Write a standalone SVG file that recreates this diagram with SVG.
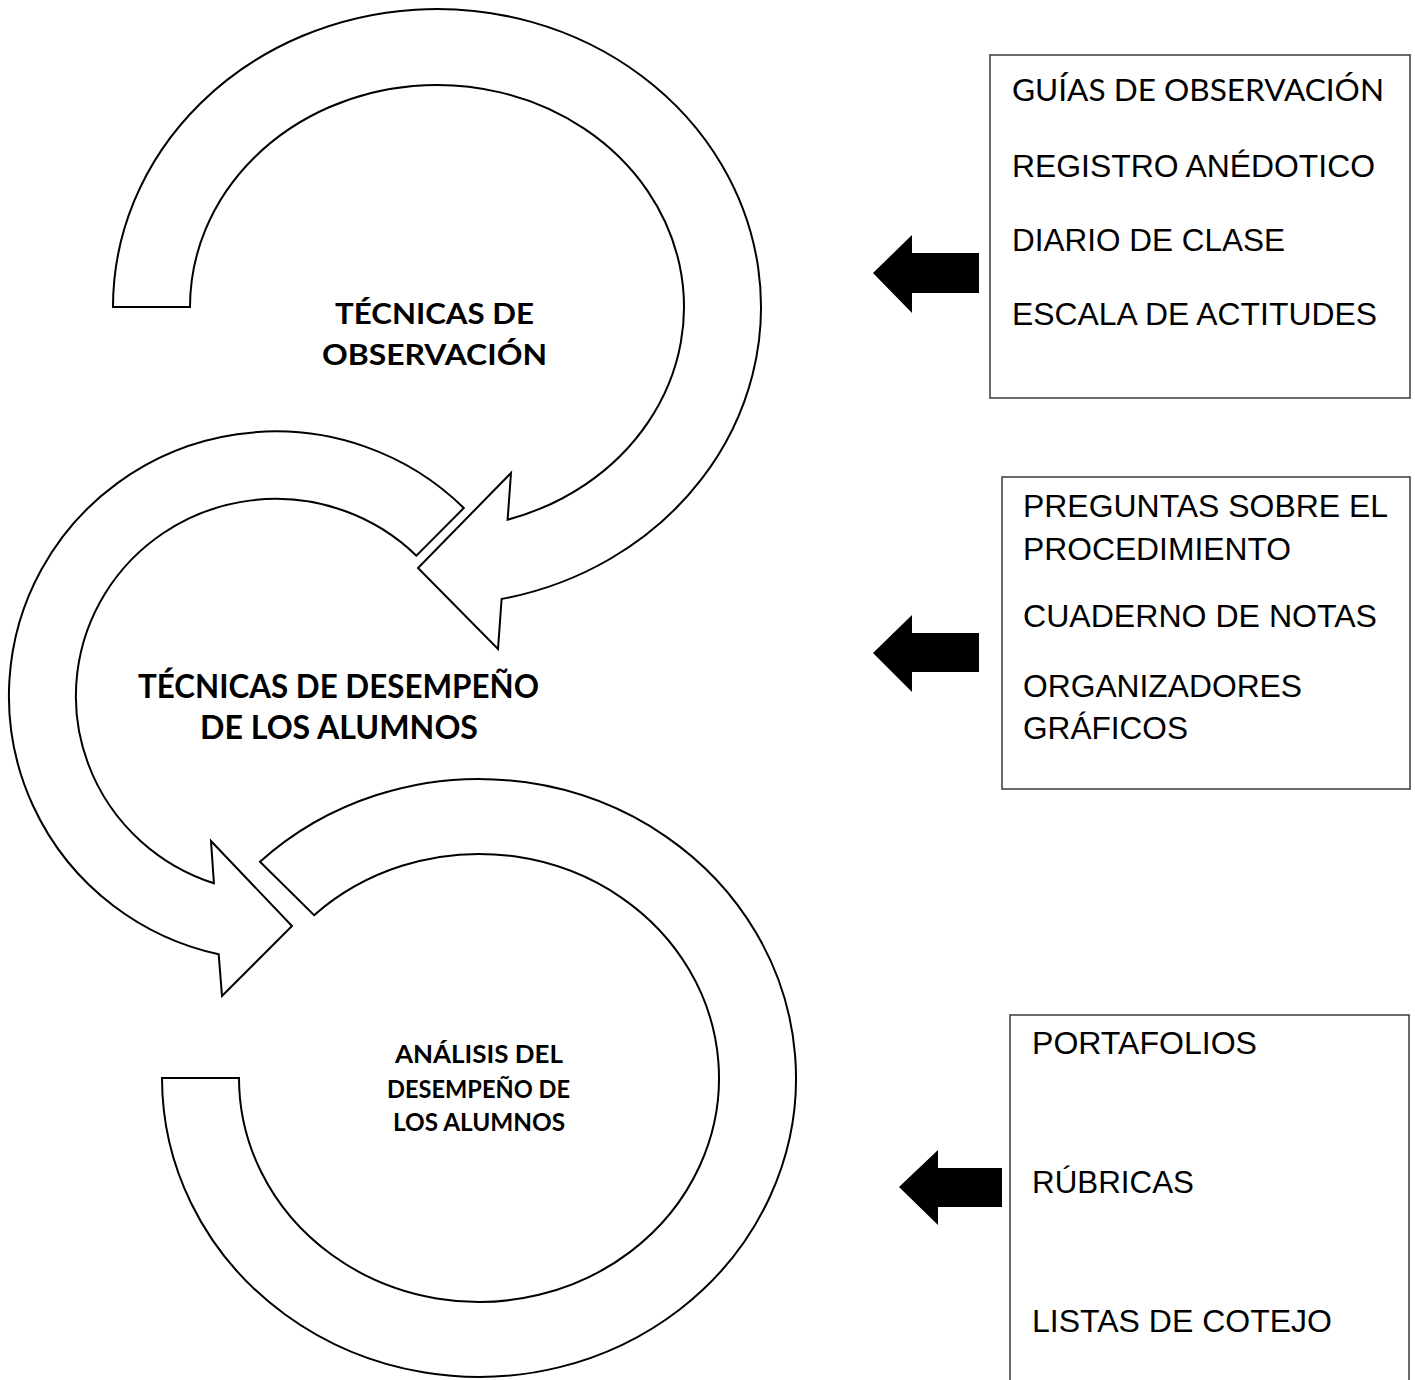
<svg xmlns="http://www.w3.org/2000/svg" width="1415" height="1380" viewBox="0 0 1415 1380">
<style>
.ring{fill:#fff;stroke:#000;stroke-width:2;stroke-linejoin:miter}
.lbl{font-family:Lato,"Open Sans","Liberation Sans",sans-serif;font-weight:bold;fill:#000;text-anchor:middle}
.box{fill:#fff;stroke:#3a3a3a;stroke-width:1.5}
.item{font-family:"Liberation Sans",Arial,sans-serif;font-size:31px;fill:#000}
.cal{font-family:Lato,"Liberation Sans",sans-serif;font-size:30px;fill:#000}
.blk{fill:#000}
</style>
<rect width="1415" height="1380" fill="#fff"/>
<g id="node-observacion">
<path class="ring" d="M 113,307 A 324 298 0 1 1 501.6,599 L 498,649 L 418,568 L 511,473 L 507.6,519.7 A 247 222 0 1 0 190,307 Z"/>
<text class="lbl" font-size="29" x="434.5" y="324" textLength="199" lengthAdjust="spacingAndGlyphs">TÉCNICAS DE</text>
<text class="lbl" font-size="29" x="434.5" y="365" textLength="225" lengthAdjust="spacingAndGlyphs">OBSERVACIÓN</text>
</g>
<g id="node-desempeno">
<path class="ring" d="M 463.8,508 A 267 264.5 0 1 0 218.7,954.3 L 222,996 L 292,926 L 211,841 L 213.9,883.2 A 200 197 0 1 1 416.4,555.7 Z"/>
<text class="lbl" font-size="32" x="338.5" y="698" textLength="401" lengthAdjust="spacingAndGlyphs">TÉCNICAS DE DESEMPEÑO</text>
<text class="lbl" font-size="32" x="339" y="739" textLength="278" lengthAdjust="spacingAndGlyphs">DE LOS ALUMNOS</text>
</g>
<g id="node-analisis">
<path class="ring" d="M 162,1078 A 317 299 0 1 0 260,861.8 L 314.1,915.2 A 240 224 0 1 1 239,1078 Z"/>
<text class="lbl" font-size="25" x="479" y="1063" textLength="168" lengthAdjust="spacingAndGlyphs">ANÁLISIS DEL</text>
<text class="lbl" font-size="25" x="478.5" y="1098" textLength="183" lengthAdjust="spacingAndGlyphs">DESEMPEÑO DE</text>
<text class="lbl" font-size="25" x="479" y="1131" textLength="172" lengthAdjust="spacingAndGlyphs">LOS ALUMNOS</text>
</g>
<g id="box-observacion">
<rect class="box" x="990" y="55" width="420" height="343"/>
<text class="cal" x="1012" y="101" textLength="372" lengthAdjust="spacingAndGlyphs">GUÍAS DE OBSERVACIÓN</text>
<text class="item" x="1012" y="177" textLength="363" lengthAdjust="spacingAndGlyphs">REGISTRO ANÉDOTICO</text>
<text class="item" x="1012" y="251" textLength="273" lengthAdjust="spacingAndGlyphs">DIARIO DE CLASE</text>
<text class="item" x="1012" y="325" textLength="365" lengthAdjust="spacingAndGlyphs">ESCALA DE ACTITUDES</text>
</g>
<g id="box-desempeno">
<rect class="box" x="1002" y="477" width="408" height="312"/>
<text class="item" x="1023" y="517" textLength="365" lengthAdjust="spacingAndGlyphs">PREGUNTAS SOBRE EL</text>
<text class="item" x="1023" y="560" textLength="268" lengthAdjust="spacingAndGlyphs">PROCEDIMIENTO</text>
<text class="item" x="1023" y="627" textLength="354" lengthAdjust="spacingAndGlyphs">CUADERNO DE NOTAS</text>
<text class="item" x="1023" y="697" textLength="279" lengthAdjust="spacingAndGlyphs">ORGANIZADORES</text>
<text class="item" x="1023" y="739" textLength="165" lengthAdjust="spacingAndGlyphs">GRÁFICOS</text>
</g>
<g id="box-analisis">
<rect class="box" x="1010" y="1015" width="399" height="380"/>
<text class="item" x="1032" y="1054" textLength="225" lengthAdjust="spacingAndGlyphs">PORTAFOLIOS</text>
<text class="item" x="1032" y="1193" textLength="162" lengthAdjust="spacingAndGlyphs">RÚBRICAS</text>
<text class="item" x="1032" y="1332" textLength="300" lengthAdjust="spacingAndGlyphs">LISTAS DE COTEJO</text>
</g>
<g id="connectors">
<polygon class="blk" points="873,273 912,235 912,253 979,253 979,293 912,293 912,313"/>
<polygon class="blk" points="873,653 912,615 912,633 979,633 979,672 912,672 912,692"/>
<polygon class="blk" points="899,1187 938,1150 938,1168 1002,1168 1002,1207 938,1207 938,1225"/>
</g>
</svg>
